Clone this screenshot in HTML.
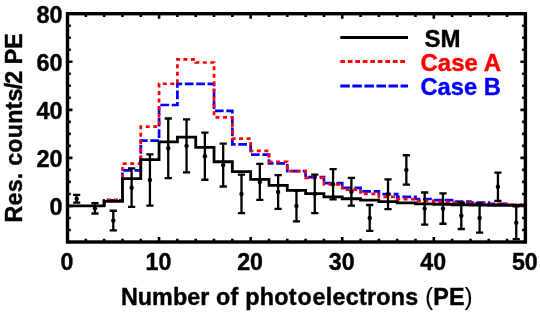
<!DOCTYPE html>
<html><head><meta charset="utf-8"><title>Residual counts</title>
<style>
html,body{margin:0;padding:0;background:#fff;}
body{width:540px;height:312px;overflow:hidden;font-family:"Liberation Sans",sans-serif;}
svg{display:block;will-change:transform;}
</style></head><body>
<svg width="540" height="312" viewBox="0 0 540 312">
<rect width="540" height="312" fill="#fff"/>
<path d="M104.13 205.95 L104.13 200.43 L122.45 200.43 L122.45 170.39 L140.76 170.39 L140.76 140.59 L159.08 140.59 L159.08 105.02 L177.40 105.02 L177.40 83.87 L195.71 83.87 L195.71 83.87 L214.03 83.87 L214.03 110.79 L232.34 110.79 L232.34 144.43 L250.66 144.43 L250.66 154.53 L268.98 154.53 L268.98 163.42 L287.29 163.42 L287.29 171.11 L305.61 171.11 L305.61 177.11 L323.92 177.11 L323.92 183.12 L342.24 183.12 L342.24 187.93 L360.56 187.93 L360.56 191.41 L378.87 191.41 L378.87 194.18 L397.19 194.18 L397.19 196.82 L415.50 196.82 L415.50 198.98 L433.82 198.98 L433.82 200.19 L452.14 200.19 L452.14 201.63 L470.45 201.63 L470.45 202.59 L488.77 202.59 L488.77 203.79 L507.08 203.79 L507.08 204.75 L525.40 204.75" fill="none" stroke="#0000ff" stroke-width="2.7" stroke-dasharray="8.7 2.7" stroke-dashoffset="2.43"/>
<path d="M104.13 205.95 L104.13 199.94 L122.45 199.94 L122.45 163.66 L140.76 163.66 L140.76 126.65 L159.08 126.65 L159.08 83.75 L177.40 83.75 L177.40 59.36 L195.71 59.36 L195.71 62.48 L214.03 62.48 L214.03 117.28 L232.34 117.28 L232.34 138.66 L250.66 138.66 L250.66 150.92 L268.98 150.92 L268.98 161.73 L287.29 161.73 L287.29 171.11 L305.61 171.11 L305.61 177.84 L323.92 177.84 L323.92 184.32 L342.24 184.32 L342.24 189.61 L360.56 189.61 L360.56 193.94 L378.87 193.94 L378.87 196.82 L397.19 196.82 L397.19 199.22 L415.50 199.22 L415.50 200.91 L433.82 200.91 L433.82 201.87 L452.14 201.87 L452.14 202.59 L470.45 202.59 L470.45 203.55 L488.77 203.55 L488.77 204.03 L507.08 204.03 L507.08 204.75 L525.40 204.75" fill="none" stroke="#ff0000" stroke-width="2.7" stroke-dasharray="4 3.5" stroke-dashoffset="6.63"/>
<path d="M67.50 205.95 L85.82 205.95 L85.82 205.95 L104.13 205.95 L104.13 201.39 L122.45 201.39 L122.45 178.56 L140.76 178.56 L140.76 159.57 L159.08 159.57 L159.08 141.79 L177.40 141.79 L177.40 137.22 L195.71 137.22 L195.71 147.32 L214.03 147.32 L214.03 161.73 L232.34 161.73 L232.34 171.59 L250.66 171.59 L250.66 179.28 L268.98 179.28 L268.98 185.29 L287.29 185.29 L287.29 190.33 L305.61 190.33 L305.61 193.70 L323.92 193.70 L323.92 196.82 L342.24 196.82 L342.24 198.74 L360.56 198.74 L360.56 200.19 L378.87 200.19 L378.87 201.63 L397.19 201.63 L397.19 202.83 L415.50 202.83 L415.50 203.79 L433.82 203.79 L433.82 204.27 L452.14 204.27 L452.14 204.75 L470.45 204.75 L470.45 204.99 L488.77 204.99 L488.77 205.23 L507.08 205.23 L507.08 205.47 L525.40 205.47" fill="none" stroke="#000" stroke-width="2.8" stroke-linejoin="miter"/>
<path d="M76.66 194.78V202.71 M73.06 194.78H80.26 M73.06 202.71H80.26 M94.97 203.19V213.52 M91.37 203.19H98.57 M91.37 213.52H98.57 M113.29 210.76V230.46 M109.69 210.76H116.89 M109.69 230.46H116.89 M131.61 168.46V206.91 M128.01 168.46H135.21 M128.01 206.91H135.21 M149.92 154.28V205.71 M146.32 154.28H153.52 M146.32 205.71H153.52 M168.24 118.48V178.08 M164.64 118.48H171.84 M164.64 178.08H171.84 M186.55 119.44V172.31 M182.95 119.44H190.15 M182.95 172.31H190.15 M204.87 132.66V179.76 M201.27 132.66H208.47 M201.27 179.76H208.47 M223.19 143.71V186.49 M219.59 143.71H226.79 M219.59 186.49H226.79 M241.50 174.71V213.16 M237.90 174.71H245.10 M237.90 213.16H245.10 M259.82 163.90V199.94 M256.22 163.90H263.42 M256.22 199.94H263.42 M278.13 175.19V208.84 M274.53 175.19H281.73 M274.53 208.84H281.73 M296.45 190.57V221.33 M292.85 190.57H300.05 M292.85 221.33H300.05 M314.77 174.71V213.16 M311.17 174.71H318.37 M311.17 213.16H318.37 M333.08 169.18V199.46 M329.48 169.18H336.68 M329.48 199.46H336.68 M351.40 177.84V205.71 M347.80 177.84H355.00 M347.80 205.71H355.00 M369.71 204.99V230.95 M366.11 204.99H373.31 M366.11 230.95H373.31 M388.03 179.28V209.08 M384.43 179.28H391.63 M384.43 209.08H391.63 M406.35 155.25V184.56 M402.75 155.25H409.95 M402.75 184.56H409.95 M424.66 192.49V224.70 M421.06 192.49H428.26 M421.06 224.70H428.26 M442.98 193.46V223.74 M439.38 193.46H446.58 M439.38 223.74H446.58 M461.29 202.59V229.02 M457.69 202.59H464.89 M457.69 229.02H464.89 M479.61 203.31V232.63 M476.01 203.31H483.21 M476.01 232.63H483.21 M497.93 172.55V200.91 M494.33 172.55H501.53 M494.33 200.91H501.53 M516.24 206.43V239.12 M512.64 206.43H519.84 M512.64 239.12H519.84" fill="none" stroke="#000" stroke-width="2.3"/>
<circle cx="76.66" cy="198.74" r="2.2" fill="#000"/>
<circle cx="94.97" cy="208.36" r="2.2" fill="#000"/>
<circle cx="113.29" cy="220.61" r="2.2" fill="#000"/>
<circle cx="131.61" cy="187.69" r="2.2" fill="#000"/>
<circle cx="149.92" cy="180.00" r="2.2" fill="#000"/>
<circle cx="168.24" cy="148.28" r="2.2" fill="#000"/>
<circle cx="186.55" cy="145.87" r="2.2" fill="#000"/>
<circle cx="204.87" cy="156.21" r="2.2" fill="#000"/>
<circle cx="223.19" cy="165.10" r="2.2" fill="#000"/>
<circle cx="241.50" cy="193.94" r="2.2" fill="#000"/>
<circle cx="259.82" cy="181.92" r="2.2" fill="#000"/>
<circle cx="278.13" cy="192.01" r="2.2" fill="#000"/>
<circle cx="296.45" cy="205.95" r="2.2" fill="#000"/>
<circle cx="314.77" cy="193.94" r="2.2" fill="#000"/>
<circle cx="333.08" cy="184.32" r="2.2" fill="#000"/>
<circle cx="351.40" cy="191.77" r="2.2" fill="#000"/>
<circle cx="369.71" cy="217.97" r="2.2" fill="#000"/>
<circle cx="388.03" cy="194.18" r="2.2" fill="#000"/>
<circle cx="406.35" cy="169.91" r="2.2" fill="#000"/>
<circle cx="424.66" cy="208.60" r="2.2" fill="#000"/>
<circle cx="442.98" cy="208.60" r="2.2" fill="#000"/>
<circle cx="461.29" cy="215.81" r="2.2" fill="#000"/>
<circle cx="479.61" cy="217.97" r="2.2" fill="#000"/>
<circle cx="497.93" cy="186.73" r="2.2" fill="#000"/>
<circle cx="516.24" cy="222.77" r="2.2" fill="#000"/>
<path d="M67.50 242.00V237.00 M67.50 13.70V18.70 M85.82 242.00V238.70 M85.82 13.70V17.00 M104.13 242.00V238.70 M104.13 13.70V17.00 M122.45 242.00V238.70 M122.45 13.70V17.00 M140.76 242.00V238.70 M140.76 13.70V17.00 M159.08 242.00V237.00 M159.08 13.70V18.70 M177.40 242.00V238.70 M177.40 13.70V17.00 M195.71 242.00V238.70 M195.71 13.70V17.00 M214.03 242.00V238.70 M214.03 13.70V17.00 M232.34 242.00V238.70 M232.34 13.70V17.00 M250.66 242.00V237.00 M250.66 13.70V18.70 M268.98 242.00V238.70 M268.98 13.70V17.00 M287.29 242.00V238.70 M287.29 13.70V17.00 M305.61 242.00V238.70 M305.61 13.70V17.00 M323.92 242.00V238.70 M323.92 13.70V17.00 M342.24 242.00V237.00 M342.24 13.70V18.70 M360.56 242.00V238.70 M360.56 13.70V17.00 M378.87 242.00V238.70 M378.87 13.70V17.00 M397.19 242.00V238.70 M397.19 13.70V17.00 M415.50 242.00V238.70 M415.50 13.70V17.00 M433.82 242.00V237.00 M433.82 13.70V18.70 M452.14 242.00V238.70 M452.14 13.70V17.00 M470.45 242.00V238.70 M470.45 13.70V17.00 M488.77 242.00V238.70 M488.77 13.70V17.00 M507.08 242.00V238.70 M507.08 13.70V17.00 M525.40 242.00V237.00 M525.40 13.70V18.70 M67.50 242.00H70.80 M525.40 242.00H522.10 M67.50 229.98H70.80 M525.40 229.98H522.10 M67.50 217.97H70.80 M525.40 217.97H522.10 M67.50 205.95H72.50 M525.40 205.95H520.40 M67.50 193.94H70.80 M525.40 193.94H522.10 M67.50 181.92H70.80 M525.40 181.92H522.10 M67.50 169.91H70.80 M525.40 169.91H522.10 M67.50 157.89H72.50 M525.40 157.89H520.40 M67.50 145.87H70.80 M525.40 145.87H522.10 M67.50 133.86H70.80 M525.40 133.86H522.10 M67.50 121.84H70.80 M525.40 121.84H522.10 M67.50 109.83H72.50 M525.40 109.83H520.40 M67.50 97.81H70.80 M525.40 97.81H522.10 M67.50 85.79H70.80 M525.40 85.79H522.10 M67.50 73.78H70.80 M525.40 73.78H522.10 M67.50 61.76H72.50 M525.40 61.76H520.40 M67.50 49.75H70.80 M525.40 49.75H522.10 M67.50 37.73H70.80 M525.40 37.73H522.10 M67.50 25.72H70.80 M525.40 25.72H522.10 M67.50 13.70H72.50 M525.40 13.70H520.40" fill="none" stroke="#000" stroke-width="2.6"/>
<rect x="67.50" y="13.70" width="457.90" height="228.30" fill="none" stroke="#000" stroke-width="3.4"/>
<g font-family="'Liberation Sans', sans-serif" font-weight="bold" font-size="24px" fill="#000" stroke="#000" stroke-width="0.4">
<text x="66.90" y="269.6" font-size="23.2px" text-anchor="middle">0</text>
<text x="158.48" y="269.6" font-size="23.2px" text-anchor="middle">10</text>
<text x="250.06" y="269.6" font-size="23.2px" text-anchor="middle">20</text>
<text x="341.64" y="269.6" font-size="23.2px" text-anchor="middle">30</text>
<text x="433.22" y="269.6" font-size="23.2px" text-anchor="middle">40</text>
<text x="524.80" y="269.6" font-size="23.2px" text-anchor="middle">50</text>
<text x="62.6" y="214.85" font-size="23.5px" text-anchor="end">0</text>
<text x="62.6" y="166.79" font-size="23.5px" text-anchor="end">20</text>
<text x="62.6" y="118.73" font-size="23.5px" text-anchor="end">40</text>
<text x="62.6" y="70.66" font-size="23.5px" text-anchor="end">60</text>
<text x="62.6" y="22.60" font-size="23.5px" text-anchor="end">80</text>
<text x="296.9" y="304.9" font-size="23.3px" letter-spacing="0.26" text-anchor="middle"><tspan letter-spacing="0.06">Number</tspan> of phot<tspan dx="0.6">o</tspan><tspan dx="0.6">electrons</tspan> <tspan font-weight="normal" stroke-width="0.2">(</tspan>PE<tspan font-weight="normal" stroke-width="0.2">)</tspan></text>
<text transform="translate(22.3 127.8) rotate(-90)" font-size="23.3px" text-anchor="middle"><tspan letter-spacing="0.19">Res. counts</tspan><tspan dx="-1.0">/</tspan><tspan dx="-0.85">2 PE</tspan></text>
<text x="424.5" y="46.5">SM</text>
<text x="420.5" y="70.7" fill="#ff0000" stroke="#ff0000">Case A</text>
<text transform="translate(420.5 95) scale(0.987 1)" fill="#0000ff" stroke="#0000ff">Case B</text>
</g>
<path d="M340.3 37.5H408" stroke="#000" stroke-width="3.2" fill="none"/>
<path d="M340.3 61.5H408" stroke="#ff0000" stroke-width="3.2" stroke-dasharray="4.7 2.8 4.7 2.8 4.7 2.8 4.7 2.8 4.7 2.8 4.7 2.8 4.7 2.8 4.7 2.8 4.7 200" fill="none"/>
<path d="M340.3 86H408" stroke="#0000ff" stroke-width="3.2" stroke-dasharray="9.5 2.55" fill="none"/>
</svg>
</body></html>
